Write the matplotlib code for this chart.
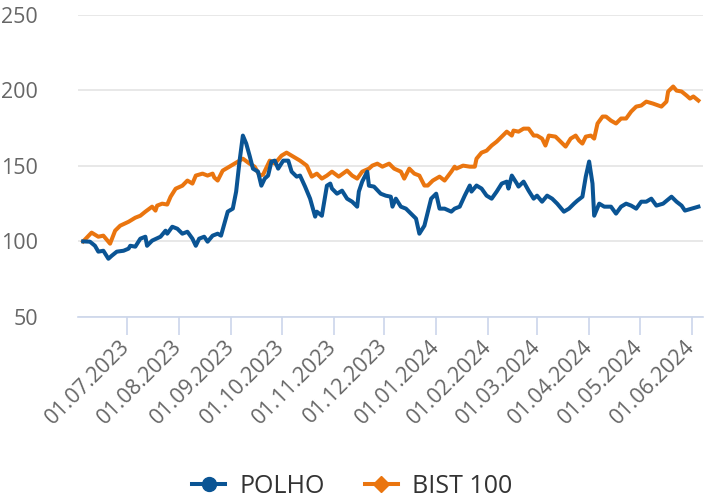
import matplotlib
matplotlib.use("Agg")
import matplotlib.pyplot as plt
import matplotlib.dates as mdates
from matplotlib.lines import Line2D
import pandas as pd

plt.rcParams["font.family"] = ["Open Sans", "DejaVu Sans"]

# BIST 100 (orange), rebased to 100
bist_fechas = [
    "2023-06-05", "2023-06-10", "2023-06-14", "2023-06-17", "2023-06-21", "2023-06-24",
    "2023-06-27", "2023-07-02", "2023-07-06", "2023-07-09", "2023-07-12", "2023-07-16",
    "2023-07-18", "2023-07-19", "2023-07-22", "2023-07-25", "2023-07-27", "2023-07-30",
    "2023-08-03", "2023-08-06", "2023-08-09", "2023-08-11", "2023-08-15", "2023-08-18",
    "2023-08-21", "2023-08-22", "2023-08-24", "2023-08-27", "2023-08-31", "2023-09-03",
    "2023-09-08", "2023-09-12", "2023-09-15", "2023-09-18", "2023-09-20", "2023-09-24",
    "2023-09-27", "2023-10-01", "2023-10-04", "2023-10-07", "2023-10-12", "2023-10-16",
    "2023-10-19", "2023-10-22", "2023-10-25", "2023-10-28", "2023-10-31", "2023-11-04",
    "2023-11-09", "2023-11-12", "2023-11-15", "2023-11-18", "2023-11-22", "2023-11-24",
    "2023-11-27", "2023-11-30", "2023-12-04", "2023-12-07", "2023-12-11", "2023-12-13",
    "2023-12-16", "2023-12-19", "2023-12-22", "2023-12-25", "2023-12-27", "2023-12-30",
    "2024-01-03", "2024-01-06", "2024-01-10", "2024-01-12", "2024-01-13", "2024-01-17",
    "2024-01-21", "2024-01-24", "2024-01-25", "2024-01-28", "2024-01-31", "2024-02-03",
    "2024-02-06", "2024-02-09", "2024-02-12", "2024-02-15", "2024-02-16", "2024-02-19",
    "2024-02-22", "2024-02-25", "2024-02-28", "2024-03-01", "2024-03-04", "2024-03-06",
    "2024-03-08", "2024-03-12", "2024-03-15", "2024-03-18", "2024-03-21", "2024-03-24",
    "2024-03-26", "2024-03-28", "2024-03-30", "2024-04-02", "2024-04-04", "2024-04-06",
    "2024-04-09", "2024-04-11", "2024-04-14", "2024-04-17", "2024-04-20", "2024-04-23",
    "2024-04-26", "2024-04-29", "2024-05-02", "2024-05-05", "2024-05-09", "2024-05-14",
    "2024-05-17", "2024-05-18", "2024-05-21", "2024-05-23", "2024-05-26", "2024-05-29",
    "2024-05-31", "2024-06-02", "2024-06-05",
]
bist_valores = [
    100.0, 105.8, 103.1, 103.8, 98.5, 107.1,
    110.4, 113.0, 115.7, 117.0, 119.7, 123.0,
    120.4, 123.7, 125.0, 124.4, 129.6, 134.9,
    136.9, 140.3, 138.3, 143.6, 144.9, 143.6,
    144.9, 142.3, 140.3, 146.9, 149.5, 151.5,
    154.8, 151.5, 149.5, 143.6, 144.2, 153.5,
    151.5, 156.8, 158.8, 156.8, 153.5, 150.2,
    142.9, 144.9, 141.6, 143.6, 146.2, 142.9,
    146.9, 143.6, 141.6, 146.2, 148.2, 150.2,
    151.5, 149.5, 151.5, 148.2, 146.2, 141.6,
    148.2, 144.9, 143.6, 137.0, 137.0, 140.3,
    142.9, 140.3, 146.2, 149.5, 148.2, 150.2,
    149.5, 149.5, 154.8, 158.8, 160.1, 163.5,
    166.1, 169.4, 172.7, 170.1, 173.4, 172.7,
    174.7, 174.7, 170.1, 170.1, 168.1, 163.5,
    170.1, 169.4, 166.1, 162.8, 168.1, 170.1,
    166.8, 164.8, 169.4, 170.1, 168.1, 178.1,
    182.7, 182.7, 180.0, 178.1, 181.4, 181.4,
    186.0, 189.3, 190.0, 192.6, 191.3, 189.3,
    192.6, 199.3, 202.6, 199.9, 199.3, 196.6,
    194.6, 196.0, 193.3,
]

# POLHO (blue), rebased to 100
polho_fechas = [
    "2023-06-05", "2023-06-09", "2023-06-12", "2023-06-14", "2023-06-17", "2023-06-20",
    "2023-06-22", "2023-06-25", "2023-06-29", "2023-07-02", "2023-07-03", "2023-07-06",
    "2023-07-09", "2023-07-12", "2023-07-13", "2023-07-16", "2023-07-21", "2023-07-24",
    "2023-07-25", "2023-07-28", "2023-07-31", "2023-08-03", "2023-08-06", "2023-08-09",
    "2023-08-11", "2023-08-13", "2023-08-16", "2023-08-18", "2023-08-21", "2023-08-24",
    "2023-08-26", "2023-08-28", "2023-08-30", "2023-09-02", "2023-09-04", "2023-09-06",
    "2023-09-08", "2023-09-10", "2023-09-12", "2023-09-14", "2023-09-17", "2023-09-19",
    "2023-09-21", "2023-09-23", "2023-09-25", "2023-09-27", "2023-09-29", "2023-10-02",
    "2023-10-05", "2023-10-07", "2023-10-10", "2023-10-12", "2023-10-15", "2023-10-18",
    "2023-10-21", "2023-10-22", "2023-10-25", "2023-10-28", "2023-10-30", "2023-10-31",
    "2023-11-03", "2023-11-06", "2023-11-09", "2023-11-12", "2023-11-15", "2023-11-16",
    "2023-11-18", "2023-11-21", "2023-11-22", "2023-11-25", "2023-11-29", "2023-12-02",
    "2023-12-05", "2023-12-06", "2023-12-08", "2023-12-11", "2023-12-14", "2023-12-17",
    "2023-12-20", "2023-12-22", "2023-12-25", "2023-12-29", "2024-01-01", "2024-01-03",
    "2024-01-06", "2024-01-10", "2024-01-12", "2024-01-15", "2024-01-18", "2024-01-21",
    "2024-01-22", "2024-01-25", "2024-01-28", "2024-01-31", "2024-02-03", "2024-02-06",
    "2024-02-09", "2024-02-12", "2024-02-13", "2024-02-15", "2024-02-18", "2024-02-19",
    "2024-02-22", "2024-02-25", "2024-02-28", "2024-03-01", "2024-03-04", "2024-03-07",
    "2024-03-10", "2024-03-13", "2024-03-17", "2024-03-20", "2024-03-23", "2024-03-25",
    "2024-03-28", "2024-03-30", "2024-04-01", "2024-04-03", "2024-04-04", "2024-04-07",
    "2024-04-10", "2024-04-14", "2024-04-17", "2024-04-20", "2024-04-23", "2024-04-26",
    "2024-04-29", "2024-05-02", "2024-05-05", "2024-05-08", "2024-05-11", "2024-05-15",
    "2024-05-20", "2024-05-23", "2024-05-26", "2024-05-28", "2024-06-01", "2024-06-05",
]
polho_valores = [
    100.0, 99.8, 97.1, 93.2, 93.8, 88.5,
    90.5, 93.2, 93.8, 95.2, 97.1, 96.5,
    101.8, 103.1, 97.1, 100.5, 103.1, 107.1,
    105.1, 109.7, 108.4, 105.1, 106.4, 101.8,
    97.1, 101.8, 103.1, 99.8, 103.8, 105.1,
    103.8, 111.7, 119.7, 121.7, 133.0, 152.9,
    170.1, 164.8, 156.8, 148.2, 146.2, 136.9,
    141.6, 143.6, 152.9, 153.5, 148.2, 153.5,
    153.5, 146.2, 142.9, 143.6, 136.3, 128.3,
    116.4, 119.7, 117.0, 136.9, 138.3, 135.0,
    131.6, 133.6, 128.3, 126.3, 123.0, 133.0,
    139.6, 146.2, 136.9, 136.3, 131.6, 130.3,
    129.6, 123.0, 128.3, 123.0, 121.7, 118.4,
    115.1, 105.1, 110.4, 128.3, 131.6, 121.7,
    121.7, 119.7, 121.7, 123.0, 130.3, 137.0,
    133.0, 137.0, 135.0, 130.3, 128.3, 133.0,
    138.3, 139.6, 135.0, 143.6, 138.3, 136.3,
    139.6, 133.6, 128.3, 130.3, 126.3, 130.3,
    128.3, 125.0, 119.7, 121.7, 125.0, 127.0,
    129.6, 142.9, 152.9, 138.3, 117.0, 125.0,
    123.0, 123.0, 118.4, 123.0, 125.0, 123.7,
    121.7, 126.3, 126.3, 128.3, 123.7, 125.0,
    129.6, 126.3, 123.7, 120.4, 121.7, 123.0,
]

azul = "#0a5494"
naranja = "#ea750f"
gris = "#666666"

fig = plt.figure(figsize=(7.04, 4.99), dpi=100)
ax = fig.add_axes([0.111, 0.365, 0.887, 0.605])

ax.plot(pd.to_datetime(bist_fechas), bist_valores, color=naranja, linewidth=2.9,
        solid_joinstyle="round", zorder=3)
ax.plot(pd.to_datetime(polho_fechas), polho_valores, color=azul, linewidth=2.9,
        solid_joinstyle="round", zorder=4)

ax.set_ylim(50, 250)
ax.set_yticks([50, 100, 150, 200, 250])
ax.set_xlim(pd.Timestamp("2023-06-02"), pd.Timestamp("2024-06-07 12:00"))

ax.xaxis.set_major_locator(mdates.MonthLocator(bymonthday=1))
ax.xaxis.set_major_formatter(mdates.DateFormatter("%d.%m.%Y"))

ax.grid(axis="y", color="#e6e6e6", linewidth=1.3, zorder=0)
for lado in ["top", "right", "left"]:
    ax.spines[lado].set_visible(False)
ax.spines["bottom"].set_color("#ccd6eb")
ax.spines["bottom"].set_linewidth(1.2)

ax.tick_params(axis="y", length=0, pad=29, labelsize=15.5, labelcolor=gris)
ax.tick_params(axis="x", length=13, width=1.2, color="#ccd6eb", pad=6,
               labelsize=15.5, labelcolor=gris)
for etiqueta in ax.get_xticklabels():
    etiqueta.set_rotation(45)
    etiqueta.set_ha("right")
    etiqueta.set_va("center")
    etiqueta.set_rotation_mode("anchor")

manijas = [
    Line2D([], [], color=azul, linewidth=2.9, marker="o", markersize=10),
    Line2D([], [], color=naranja, linewidth=2.9, marker="D", markersize=8),
]
fig.legend(manijas, ["POLHO", "BIST 100"], loc="lower center",
           bbox_to_anchor=(0.5, -0.045), ncol=2, frameon=False,
           fontsize=18, labelcolor="#333333", handlelength=1.35,
           columnspacing=1.6, handletextpad=0.55)

fig.savefig("out.png", dpi=100)
